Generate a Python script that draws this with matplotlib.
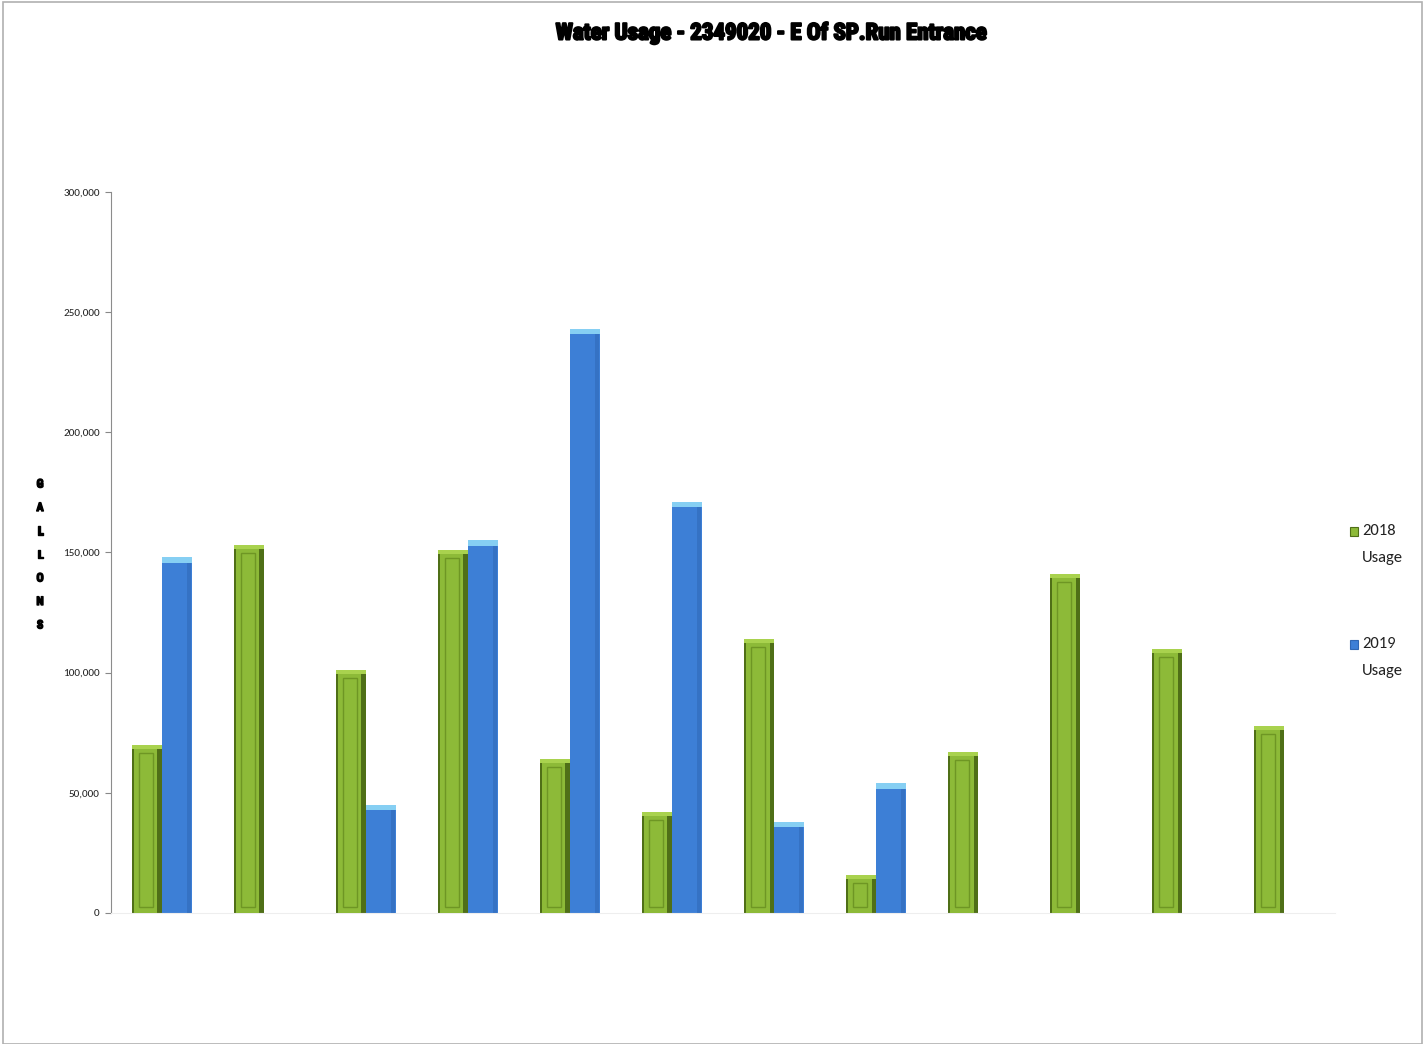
import numpy as np
import matplotlib
matplotlib.use("Agg")
import matplotlib.pyplot as plt
import matplotlib.patheffects as pe
from matplotlib.patches import Rectangle

# data (gallons per period, no category labels shown)
periods = ["Jan", "Feb", "Mar", "Apr", "May", "Jun", "Jul", "Aug", "Sep", "Oct", "Nov", "Dec"]
usage_2018 = [70000, 153000, 101000, 151000, 64000, 42000, 114000, 16000, 67000, 141000, 110000, 78000]
usage_2019 = [148000, None, 45000, 155000, 243000, 171000, 38000, 54000, None, None, None, None]
y_ticks = [0, 50000, 100000, 150000, 200000, 250000, 300000]

BODY = ["Carlito", "DejaVu Sans"]
HEAVY = ["Roboto Condensed", "DejaVu Sans"]
GREEN = "#8dba38"
GREEN_DARK = "#4f6f17"
GREEN_LIGHT = "#a9d24e"
BLUE = "#3d7fd6"
BLUE_DARK = "#2f66b3"
BLUE_TOP = "#86cff3"

fig = plt.figure(figsize=(14.28, 10.44), dpi=100)
ax = fig.add_axes([0.0777, 0.1255, 1335 / 1428 - 0.0777, 0.8161 - 0.1255])

x = np.arange(len(periods))
w = 0.29
bev = 1700  # bevel thickness in data units (~4px)

# 2018 bars: dark frame, body, inner panel, light top bevel
ax.bar(x - w / 2, usage_2018, w, color=GREEN_DARK, linewidth=0, zorder=2)
ax.bar(x - w / 2 - 0.012, [v - bev for v in usage_2018], w * 0.78, color=GREEN, linewidth=0, zorder=3)
ax.bar(x - w / 2 - 0.012, [v - 3.5 * bev for v in usage_2018], w * 0.5,
       bottom=[1.5 * bev] * len(usage_2018), facecolor="none", edgecolor="#6e9624",
       linewidth=1.0, zorder=5)
ax.bar(x - w / 2, [bev] * len(usage_2018), w, bottom=[v - bev for v in usage_2018],
       color=GREEN_LIGHT, linewidth=0, zorder=6)

# 2019 bars
b_x = [xi + w / 2 for xi, v in zip(x, usage_2019) if v is not None]
b_v = [v for v in usage_2019 if v is not None]
ax.bar(b_x, b_v, w, color=BLUE, linewidth=0, zorder=2)
ax.bar([xi + w * 0.42 for xi in b_x], b_v, w * 0.12, color=BLUE_DARK, linewidth=0, zorder=3, alpha=0.5)
ax.bar(b_x, [bev * 1.3] * len(b_v), w, bottom=[v - bev * 1.3 for v in b_v],
       color=BLUE_TOP, linewidth=0, zorder=4)

ax.set_xlim(-0.5, len(periods) - 0.5)
ax.set_ylim(0, 300000)
ax.set_yticks(y_ticks)
ax.set_yticklabels([f"{t:,}" for t in y_ticks], family=BODY, fontsize=8, color="#222222")
ax.set_xticks([])
ax.tick_params(axis="y", length=4, color="#888888", pad=4)
for s in ["top", "right"]:
    ax.spines[s].set_visible(False)
ax.spines["left"].set_color("#8c8c8c")
ax.spines["left"].set_linewidth(0.8)
ax.spines["bottom"].set_color("#eeeeee")
ax.spines["bottom"].set_linewidth(0.8)

fig.text(771 / 1428, 1 - 33 / 1044, "Water Usage - 2349020 - E Of SP.Run Entrance",
         ha="center", va="center", family=HEAVY, fontsize=16.5, fontweight="bold",
         path_effects=[pe.withStroke(linewidth=1.5, foreground="black")])

for i, ch in enumerate("GALLONS"):
    fig.text(40 / 1428, 1 - (484 + i * 23.5) / 1044, ch, ha="center", va="center",
             family=HEAVY, fontsize=8.5, fontweight="bold",
             path_effects=[pe.withStroke(linewidth=1.0, foreground="black")])

# legend
for ypix, col, edge, label in [(531, GREEN, GREEN_DARK, "2018"), (644, BLUE, BLUE_DARK, "2019")]:
    fig.patches.append(Rectangle((1350 / 1428, 1 - (ypix + 5) / 1044), 8 / 1428, 9 / 1044,
                                 transform=fig.transFigure, facecolor=col, edgecolor=edge, linewidth=0.8))
    fig.text(1362 / 1428, 1 - ypix / 1044, label, ha="left", va="center",
             family=BODY, fontsize=12, color="#222222")
    fig.text(1362 / 1428, 1 - (ypix + 27) / 1044, "Usage", ha="left", va="center",
             family=BODY, fontsize=12, color="#222222")

# outer chart border
fig.patches.append(Rectangle((3 / 1428, 0), 1419 / 1428, 1 - 2 / 1044, transform=fig.transFigure,
                             facecolor="none", edgecolor="#b0b0b0", linewidth=1.2))

fig.savefig("out.png", dpi=100)
